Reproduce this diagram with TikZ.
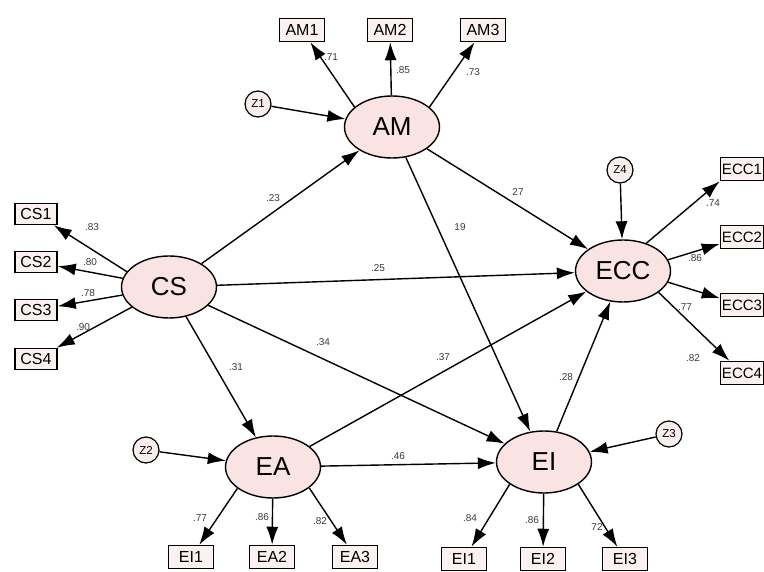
\documentclass[tikz,border=0pt]{standalone}
\usepackage{fontspec}
\setmainfont{Liberation Sans}
\usetikzlibrary{shapes.geometric,arrows.meta}
\definecolor{latfill}{HTML}{F9E3E3}
\definecolor{boxfill}{HTML}{FBF1F1}
\definecolor{zfill}{HTML}{FAEDED}
\definecolor{lblcol}{HTML}{3A3A3A}
\tikzset{
  latent/.style={ellipse,draw,line width=1.4pt,fill=latfill,minimum width=95pt,minimum height=62pt,inner sep=0pt,font=\fontsize{26}{28}\selectfont},
  indic/.style={rectangle,draw,line width=1.5pt,fill=boxfill,minimum width=45pt,minimum height=23pt,inner sep=0pt,font=\fontsize{16}{17}\selectfont},
  errc/.style={circle,draw,line width=1.2pt,fill=zfill,minimum size=26pt,inner sep=0pt,font=\fontsize{11.5}{12}\selectfont},
  path/.style={line width=1.4pt,-{Latex[length=18pt,width=12pt]}},
  coef/.style={font=\fontsize{10}{11}\selectfont,text=lblcol,inner sep=0pt}
}
\begin{document}
\begin{tikzpicture}[x=1pt,y=-1pt]
\useasboundingbox[fill=white] (0,0) rectangle (764,572);
% latent
\node[latent] (AM) at (392,127) {AM};
\node[latent] (CS) at (169,287) {CS};
\node[latent] (ECC) at (623,271) {ECC};
\node[latent] (EA) at (273,467) {EA};
\node[latent] (EI) at (544,462) {EI};
% indicators
\node[indic] (AM1) at (302,30) {AM1};
\node[indic] (AM2) at (390,30) {AM2};
\node[indic] (AM3) at (483,30) {AM3};
\node[indic,minimum width=42pt,minimum height=21pt] (CS1) at (36,214) {CS1};
\node[indic,minimum width=42pt,minimum height=21pt] (CS2) at (36,262) {CS2};
\node[indic,minimum width=42pt,minimum height=21pt] (CS3) at (36,310) {CS3};
\node[indic,minimum width=42pt,minimum height=21pt] (CS4) at (36,359) {CS4};
\node[indic,minimum width=43pt,font=\fontsize{15}{16}\selectfont] (ECC1) at (742,169) {ECC1};
\node[indic,minimum width=43pt,font=\fontsize{15}{16}\selectfont] (ECC2) at (742,237) {ECC2};
\node[indic,minimum width=43pt,font=\fontsize{15}{16}\selectfont] (ECC3) at (742,305) {ECC3};
\node[indic,minimum width=43pt,font=\fontsize{15}{16}\selectfont] (ECC4) at (742,373) {ECC4};
\node[indic] (EAI1) at (191,557) {EI1};
\node[indic] (EA2) at (272,557) {EA2};
\node[indic] (EA3) at (355,557) {EA3};
\node[indic] (EI1) at (464,559) {EI1};
\node[indic] (EI2) at (543,559) {EI2};
\node[indic] (EI3) at (625,559) {EI3};
% errors
\node[errc] (Z1) at (258,104) {Z1};
\node[errc] (Z2) at (146,450) {Z2};
\node[errc] (Z3) at (669,434) {Z3};
\node[errc] (Z4) at (620,170) {Z4};
% measurement arrows
\draw[path] (AM.152) -- (AM1);
\draw[path] (AM) -- (AM2);
\draw[path] (AM.28) -- (AM3);
\draw[path] (CS.160) -- (CS1);
\draw[path] (CS) -- (CS2);
\draw[path] (CS) -- (CS3);
\draw[path] (CS) -- (CS4);
\draw[path] (ECC.50) -- (ECC1.south west);
\draw[path] (ECC.14) -- (ECC2);
\draw[path] (ECC.-14) -- (ECC3);
\draw[path] (ECC.-31) -- (ECC4);
\draw[path] (EA.211) -- (EAI1);
\draw[path] (EA) -- (EA2);
\draw[path] (EA.-30) -- (EA3);
\draw[path] (EI.213) -- (EI1);
\draw[path] (EI) -- (EI2);
\draw[path] (EI.-33) -- (EI3);
% errors
\draw[path] (Z1) -- (AM);
\draw[path] (Z2) -- (EA);
\draw[path] (Z3) -- (EI);
\draw[path] (Z4) -- (ECC);
% structural
\draw[path] (CS) -- (AM);
\draw[path] (CS) -- (ECC);
\draw[path] (CS) -- (EA);
\draw[path] (CS) -- (EI);
\draw[path] (AM) -- (ECC);
\draw[path] (AM) -- (EI);
\draw[path] (EA) -- (ECC);
\draw[path] (EA) -- (EI);
\draw[path] (EI) -- (ECC);
% coefficients
\node[coef] (c1) at (331,57) {.71};
\node[coef] (c2) at (403,70) {.85};
\node[coef] (c3) at (473,72) {.73};
\node[coef] (c4) at (92,227) {.83};
\node[coef] (c5) at (90,262) {.80};
\node[coef] (c6) at (88,293) {.78};
\node[coef] (c7) at (83,327) {.90};
\node[coef] (c8) at (713,203) {.74};
\node[coef] (c9) at (695,258) {.86};
\node[coef] (c10) at (685,307) {.77};
\node[coef] (c11) at (693,358) {.82};
\node[coef] (c12) at (200,518) {.77};
\node[coef] (c13) at (262,517) {.86};
\node[coef] (c14) at (320,521) {.82};
\node[coef] (c15) at (470,518) {.84};
\node[coef] (c16) at (532,520) {.86};
\node[coef] (c17) at (597,527) {72};
\node[coef] (c18) at (273,198) {.23};
\node[coef] (c19) at (518,192) {27};
\node[coef] (c20) at (460,227) {19};
\node[coef] (c21) at (378,268) {.25};
\node[coef] (c22) at (323,342) {.34};
\node[coef] (c23) at (443,357) {.37};
\node[coef] (c24) at (236,367) {.31};
\node[coef] (c25) at (398,456) {.46};
\node[coef] (c26) at (566,377) {.28};
\end{tikzpicture}
\end{document}
